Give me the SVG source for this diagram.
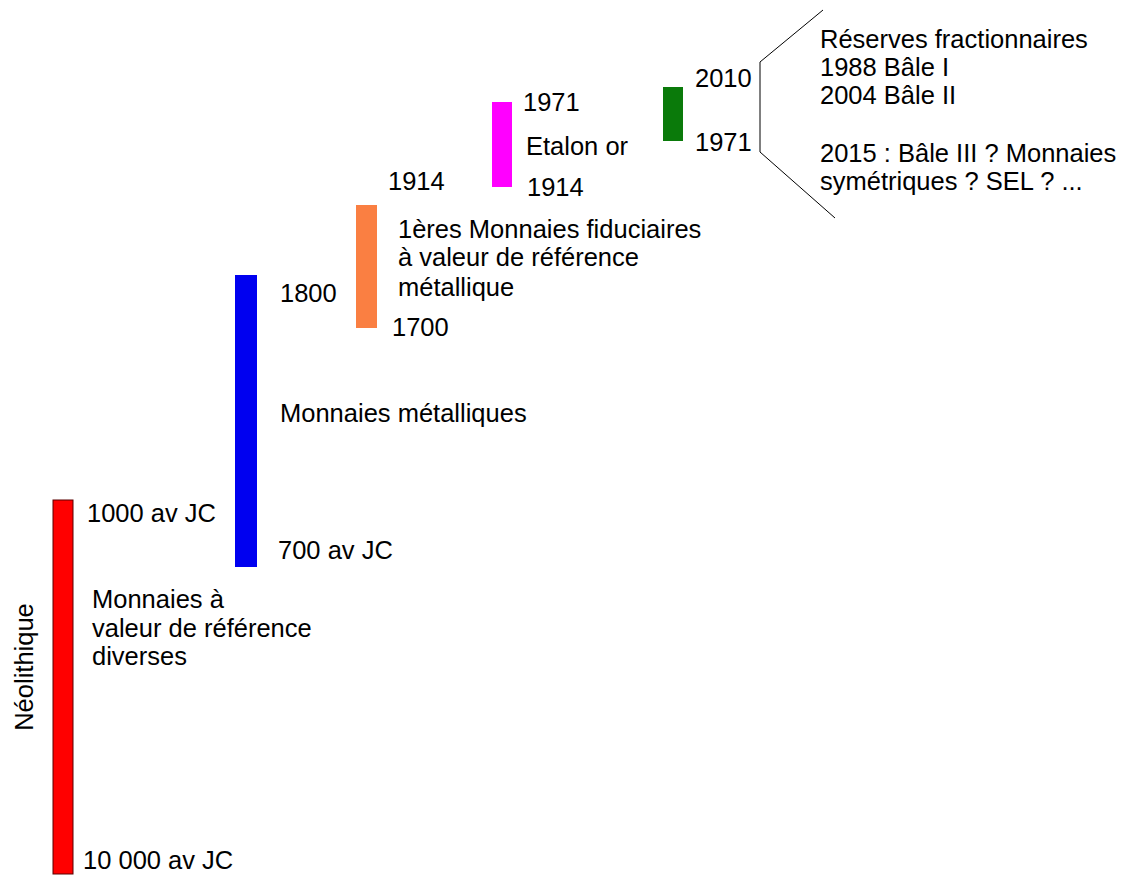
<svg xmlns="http://www.w3.org/2000/svg" width="1131" height="876" viewBox="0 0 1131 876">
<style>
text{font-family:"Liberation Sans",Arial,sans-serif;font-size:25.5px;fill:#000}
.bar{stroke:none}
</style>
<rect width="1131" height="876" fill="#fff"/>
<g id="neolithique">
<rect x="53" y="500" width="20" height="374" fill="#ff0000" stroke="#5a0000" stroke-width="1"/>
<text x="33" y="667" text-anchor="middle" transform="rotate(-90 33 667)">Néolithique</text>
<text x="87" y="522">1000 av JC</text>
<text x="92" y="608">Monnaies à</text>
<text x="92" y="637">valeur de référence</text>
<text x="92" y="665">diverses</text>
<text x="83" y="869">10 000 av JC</text>
</g>
<g id="metalliques">
<rect class="bar" x="235" y="275" width="22" height="292" fill="#0000f0"/>
<text x="280" y="302">1800</text>
<text x="280" y="422">Monnaies métalliques</text>
<text x="278" y="559">700 av JC</text>
</g>
<g id="fiduciaires">
<rect class="bar" x="356" y="205" width="21" height="123" fill="#fa7f42"/>
<text x="388" y="190">1914</text>
<text x="398" y="238">1ères Monnaies fiduciaires</text>
<text x="398" y="266">à valeur de référence</text>
<text x="398" y="296">métallique</text>
<text x="392" y="336">1700</text>
</g>
<g id="etalon">
<rect class="bar" x="492" y="102" width="20" height="85" fill="#ff00ff"/>
<text x="523" y="111">1971</text>
<text x="526" y="155">Etalon or</text>
<text x="527" y="196">1914</text>
</g>
<g id="reserves">
<rect class="bar" x="663" y="87" width="20" height="54" fill="#0a7a0a"/>
<text x="695" y="87">2010</text>
<text x="695" y="151">1971</text>
<text x="820" y="48">Réserves fractionnaires</text>
<text x="820" y="76">1988 Bâle I</text>
<text x="820" y="104">2004 Bâle II</text>
<text x="820" y="162">2015 : Bâle III ? Monnaies</text>
<text x="820" y="190">symétriques ? SEL ? ...</text>
</g>
<g id="connectors">
<polyline points="823,10 760,62 760,152 835,218" fill="none" stroke="#000" stroke-width="1"/>
</g>
</svg>
